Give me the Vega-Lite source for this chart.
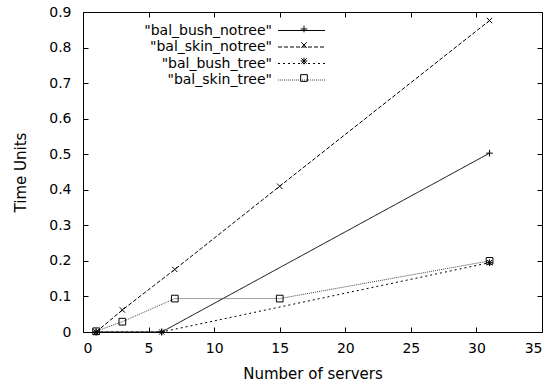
{
  "$schema": "https://vega.github.io/schema/vega-lite/v6.json",
  "autosize": "none",
  "width": 459,
  "height": 320,
  "padding": {"left": 83, "top": 12, "right": 15, "bottom": 56},
  "background": "white",
  "config": {
    "font": "DejaVu Sans",
    "view": {"stroke": "black", "strokeWidth": 1},
    "axis": {"grid": false, "domain": false, "tickColor": "black", "tickSize": -5, "labelColor": "black", "titleColor": "black", "labelFontSize": 14, "titleFontSize": 15, "titleFontWeight": "normal", "labelFont": "DejaVu Sans", "titleFont": "DejaVu Sans"},
    "legend": {"title": null, "orient": "none", "padding": 0, "labelColor": "black", "labelLimit": 300, "labelFont": "DejaVu Sans"}
  },
  "data": {"values": [
    {"series": "\"bal_bush_notree\"", "servers": 1, "time": 0},
    {"series": "\"bal_bush_notree\"", "servers": 6, "time": 0},
    {"series": "\"bal_bush_notree\"", "servers": 31, "time": 0.503},
    {"series": "\"bal_skin_notree\"", "servers": 1, "time": 0},
    {"series": "\"bal_skin_notree\"", "servers": 3, "time": 0.062},
    {"series": "\"bal_skin_notree\"", "servers": 7, "time": 0.176},
    {"series": "\"bal_skin_notree\"", "servers": 15, "time": 0.41},
    {"series": "\"bal_skin_notree\"", "servers": 31, "time": 0.876},
    {"series": "\"bal_bush_tree\"", "servers": 1, "time": 0},
    {"series": "\"bal_bush_tree\"", "servers": 6, "time": 0},
    {"series": "\"bal_bush_tree\"", "servers": 31, "time": 0.195},
    {"series": "\"bal_skin_tree\"", "servers": 1, "time": 0.002},
    {"series": "\"bal_skin_tree\"", "servers": 3, "time": 0.029},
    {"series": "\"bal_skin_tree\"", "servers": 7, "time": 0.094},
    {"series": "\"bal_skin_tree\"", "servers": 15, "time": 0.094},
    {"series": "\"bal_skin_tree\"", "servers": 31, "time": 0.2}
  ]},
  "layer": [
    {
      "mark": {"type": "line", "strokeWidth": 1},
      "encoding": {
        "x": {"field": "servers", "type": "quantitative", "scale": {"domain": [0, 35], "nice": false}, "axis": {"values": [0,5,10,15,20,25,30,35], "title": "Number of servers", "labelPadding": 14, "titlePadding": 11}},
        "y": {"field": "time", "type": "quantitative", "scale": {"domain": [0, 0.9], "nice": false}, "axis": {"values": [0,0.1,0.2,0.3,0.4,0.5,0.6,0.7,0.8,0.9], "title": "Time Units", "labelPadding": 17, "titlePadding": 20, "labelExpr": "datum.value == 0 ? '0' : format(datum.value, '.1f')"}},
        "strokeDash": {"field": "series", "type": "nominal", "scale": {"domain": ["\"bal_bush_notree\"", "\"bal_skin_notree\"", "\"bal_bush_tree\"", "\"bal_skin_tree\""], "range": [[1, 0], [4, 2], [2, 3], [1, 1]]}, "legend": {"legendX": 211, "legendY": 11, "symbolType": "M-3.5,0L3.5,0", "symbolSize": 180, "symbolStrokeWidth": 1, "symbolFillColor": "transparent", "labelAlign": "right", "labelOffset": -37, "labelFontSize": 14, "rowPadding": 1.5}},
        "color": {"field": "series", "type": "nominal", "scale": {"domain": ["\"bal_bush_notree\"", "\"bal_skin_notree\"", "\"bal_bush_tree\"", "\"bal_skin_tree\""], "range": ["black", "black", "black", "#444444"]}, "legend": {"legendX": 211, "legendY": 11, "symbolType": "M-3.5,0L3.5,0", "symbolSize": 180, "symbolStrokeWidth": 1, "symbolFillColor": "transparent", "labelAlign": "right", "labelOffset": -37, "labelFontSize": 14, "rowPadding": 1.5}}
      }
    },
    {
      "mark": {"type": "point", "filled": false, "strokeWidth": 1, "size": 45, "opacity": 1, "color": "black"},
      "encoding": {
        "x": {"field": "servers", "type": "quantitative", "axis": {"orient": "top", "labels": false, "title": null, "values": [0,5,10,15,20,25,30,35]}},
        "y": {"field": "time", "type": "quantitative", "axis": {"orient": "right", "labels": false, "title": null, "values": [0,0.1,0.2,0.3,0.4,0.5,0.6,0.7,0.8,0.9]}},
        "shape": {"field": "series", "type": "nominal", "scale": {"domain": ["\"bal_bush_notree\"", "\"bal_skin_notree\"", "\"bal_bush_tree\"", "\"bal_skin_tree\""], "range": ["M-1,0L1,0M0,-1L0,1", "M-0.8,-0.8L0.8,0.8M-0.8,0.8L0.8,-0.8", "M-1,0L1,0M0,-1L0,1M-0.8,-0.8L0.8,0.8M-0.8,0.8L0.8,-0.8", "square"]}, "legend": {"legendX": 217, "legendY": 13, "symbolSize": 45, "symbolStrokeColor": "black", "symbolStrokeWidth": 1, "symbolFillColor": "white", "labelFontSize": 1, "labelOpacity": 0, "rowPadding": 5}}
      }
    }
  ],
  "resolve": {"axis": {"x": "independent", "y": "independent"}, "legend": {"shape": "independent"}}
}
